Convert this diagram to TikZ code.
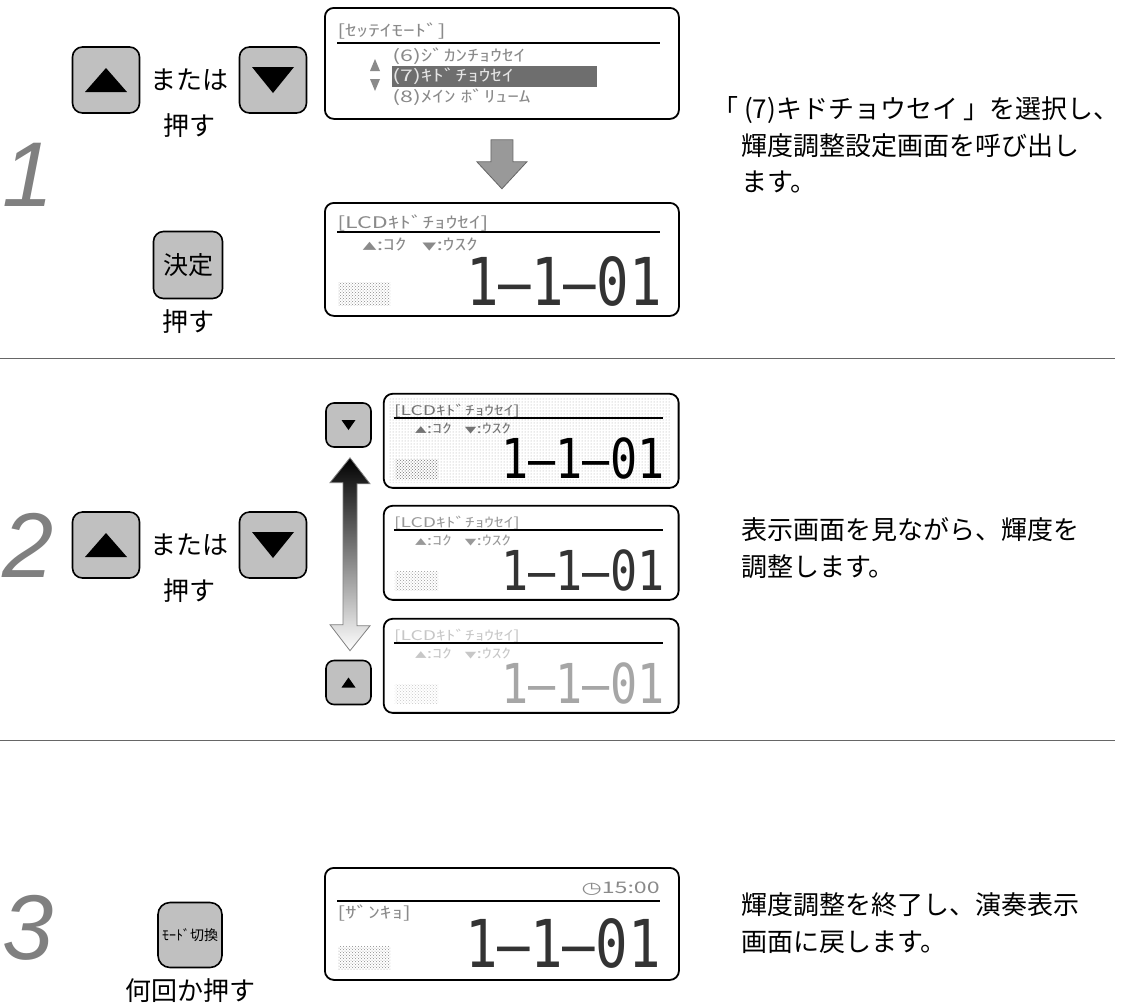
\documentclass[tikz,border=0pt]{standalone}
\usepackage{fontspec}
\setmainfont{Noto Sans CJK JP}
\newfontfamily\stepfont{Liberation Sans}
\newfontfamily\lcdnumfont{DejaVu Sans Mono}
\newfontfamily\clockfont{DejaVu Sans}
\usetikzlibrary{positioning, patterns, calc}

\definecolor{btngray}{HTML}{C0C0C0}
\definecolor{stepgray}{HTML}{808080}
\definecolor{arrgray}{HTML}{999999}
\definecolor{lcdgray}{HTML}{8A8A8A}
\definecolor{lcddark}{HTML}{6E6E6E}

\tikzset{
  keybtn/.style={draw=black, line width=1.6pt, fill=btngray, rounded corners=10pt,
    minimum width=67pt, minimum height=66pt, inner sep=0pt},
  smallbtn/.style={keybtn, minimum width=45pt, minimum height=44pt, rounded corners=8pt},
  lcdbox/.style={draw=black, line width=1.8pt, rounded corners=9pt, fill=white,
    inner sep=0pt, anchor=north west},
  steplabel/.style={font=\stepfont\itshape\fontsize{92}{92}\selectfont, text=stepgray, inner sep=0pt},
  jtext/.style={font=\fontsize{26}{36}\selectfont, inner sep=0pt},
  desc/.style={jtext, anchor=west},
  lcdtext/.style={font=\fontsize{16}{16}\selectfont, inner sep=0pt, anchor=west, xscale=1.45},
  lcdnum/.style={font=\lcdnumfont\fontsize{66}{66}\selectfont, inner sep=0pt, xscale=0.82},
  lcdicon/.style={pattern=crosshatch dots, minimum width=52pt, minimum height=23pt,
    inner sep=0pt, anchor=north west},
  sepline/.style={draw=black!60, line width=0.8pt},
}

% triangles on the keys: centre, half width, half height, colour
\newcommand{\uptri}[4]{\fill[#4] (#1) ++(0,-#3) -- ++(#2,2*#3) -- ++(-2*#2,0) -- cycle;}
\newcommand{\downtri}[4]{\fill[#4] (#1) ++(0,#3) -- ++(#2,-2*#3) -- ++(-2*#2,0) -- cycle;}
\newcommand{\smalltri}[1]{{\fontsize{10}{10}\selectfont #1}}

% brightness screen: prefix, text colour, digit colour, background
\newcommand{\kidolcd}[4]{%
  \node[lcdbox, minimum width=354pt, minimum height=113pt] (#1) at (0,0) {};
  #4
  \node[lcdtext, text=#2] (#1-head) at (13,21) {[LCDｷﾄﾞﾁｮｳｾｲ]};
  \draw[line width=1.6pt] (13,30) -- (336,30);
  \node[lcdtext, text=#2] (#1-sub) at (38,43) {\smalltri{▲}:ｺｸ\ \ \ \smalltri{▼}:ｳｽｸ};
  \node[lcdnum, text=#3] (#1-num) at (240,79) {1–1–01};
  \node[lcdicon, pattern color=#2] (#1-icon) at (14,80) {};
}

\begin{document}
\begin{tikzpicture}[x=1pt, y=-1pt]
\useasboundingbox (0,0) rectangle (1126,1005);

% step 1
\node[steplabel] (num1) at (28,175) {1};
\node[keybtn] (up1) at (106,80) {};
\node[jtext, right=10pt of up1] (or1) {または};
\node[keybtn, right=10pt of or1] (down1) {};
\node[jtext, below=22pt of or1] (push1) {押す};
\uptri{up1.center}{21}{12}{black}
\downtri{down1.center}{21}{13}{black}

\node[keybtn, minimum width=69pt, minimum height=67pt, font=\fontsize{25}{25}\selectfont] (enter) at (188,265) {決定};
\node[jtext, below=10pt of enter] (push2) {押す};

\node[lcdbox, minimum width=354pt, minimum height=111pt] (menu) at (324,7) {};
\node[lcdtext, text=lcdgray] (menu-head) at (337,31) {[ｾｯﾃｲﾓｰﾄﾞ]};
\draw[line width=1.6pt] (337,43) -- (660,43);
\node[lcdtext, text=lcdgray] (row6) at (392,56) {(6)ｼﾞｶﾝﾁｮｳｾｲ};
\node[fill=lcddark, minimum width=205pt, minimum height=21pt, inner sep=0pt, anchor=west] (sel) at (392,76) {};
\node[lcdtext, text=white!90!black] (row7) at (sel.west) {(7)ｷﾄﾞﾁｮｳｾｲ};
\node[lcdtext, text=lcdgray] (row8) at (392,97) {(8)ﾒｲﾝ ﾎﾞﾘｭｰﾑ};
\coordinate (scroll) at (375,76);
\uptri{$(scroll)+(0,-11)$}{5}{6}{lcdgray}
\downtri{$(scroll)+(0,9)$}{5}{6}{lcdgray}

\draw[fill=arrgray, draw=black!60, line width=0.8pt] ($(menu.south)+(-11,20)$) -- ++(22,0) -- ++(0,22)
  -- ++(14,0) -- ++(-25,27) -- ++(-25,-27) -- ++(14,0) -- cycle;

\begin{scope}[shift={(324,202)}]
  \kidolcd{kido}{lcdgray}{black!80}{}
\end{scope}

\node[desc] (text1a) at (712,110) {「 (7)キドチョウセイ 」を選択し、};
\node[desc] (text1b) at (741,146) {輝度調整設定画面を呼び出し};
\node[desc] (text1c) at (741,182) {ます。};

\draw[sepline] (0,358) -- (1115,358);

% step 2
\node[steplabel] (num2) at (28,545) {2};
\node[keybtn] (up2) at (106,545) {};
\node[jtext, right=10pt of up2] (or2) {または};
\node[keybtn, right=10pt of or2] (down2) {};
\node[jtext, below=22pt of or2] (push3) {押す};
\uptri{up2.center}{21}{12}{black}
\downtri{down2.center}{21}{13}{black}

\node[smallbtn] (dnsmall) at (348.5,425) {};
\node[smallbtn] (upsmall) at (348.5,682.5) {};
\downtri{dnsmall.center}{7}{5}{black}
\uptri{upsmall.center}{7}{5}{black}

\coordinate (arrtop) at ($(dnsmall.south)+(1.5,10)$);
\coordinate (arrbot) at ($(upsmall.north)+(1.5,-9)$);
\draw[draw=black!50, line width=0.8pt, top color=black, bottom color=white]
  (arrtop) -- ++(20,26) -- ++(-13,0) -- ++(0,142) -- ++(13,0) -- (arrbot)
  -- ++(-20,-26) -- ++(13,0) -- ++(0,-142) -- ++(-13,0) -- cycle;

\begin{scope}[shift={(383,393)}, scale=0.833, transform shape]
  \kidolcd{dark}{black!55}{black}{\fill[pattern=dots, pattern color=black!35] (8,5) rectangle (346,108);}
\end{scope}
\begin{scope}[shift={(383,505)}, scale=0.833, transform shape]
  \kidolcd{mid}{black!40}{black!80}{}
\end{scope}
\begin{scope}[shift={(383,618)}, scale=0.833, transform shape]
  \kidolcd{pale}{black!22}{black!35}{}
\end{scope}

\node[desc] (text2a) at (741,530) {表示画面を見ながら、輝度を};
\node[desc] (text2b) at (741,567) {調整します。};

\draw[sepline] (0,740) -- (1115,740);

% step 3
\node[steplabel] (num3) at (28,928) {3};
\node[keybtn, minimum width=64pt, minimum height=65pt, rounded corners=12pt,
  font=\fontsize{14}{14}\selectfont] (mode) at (190,935) {ﾓｰﾄﾞ切換};
\node[jtext, below=10pt of mode] (push4) {何回か押す};

\node[lcdbox, minimum width=354pt, minimum height=112pt] (play) at (324,867) {};
\node[lcdtext, anchor=east, text=lcdgray] (clock) at (660,889) {{\clockfont ◷}15:00};
\draw[line width=1.6pt] (337,901) -- (660,901);
\node[lcdtext, text=lcdgray] (play-head) at (337,913) {[ｻﾞﾝｷｮ]};
\node[lcdnum, text=black!80] (play-num) at (563,943) {1–1–01};
\node[lcdicon, pattern color=lcdgray] (play-icon) at (338,946) {};

\node[desc] (text3a) at (741,905) {輝度調整を終了し、演奏表示};
\node[desc] (text3b) at (741,942) {画面に戻します。};

\end{tikzpicture}
\end{document}
